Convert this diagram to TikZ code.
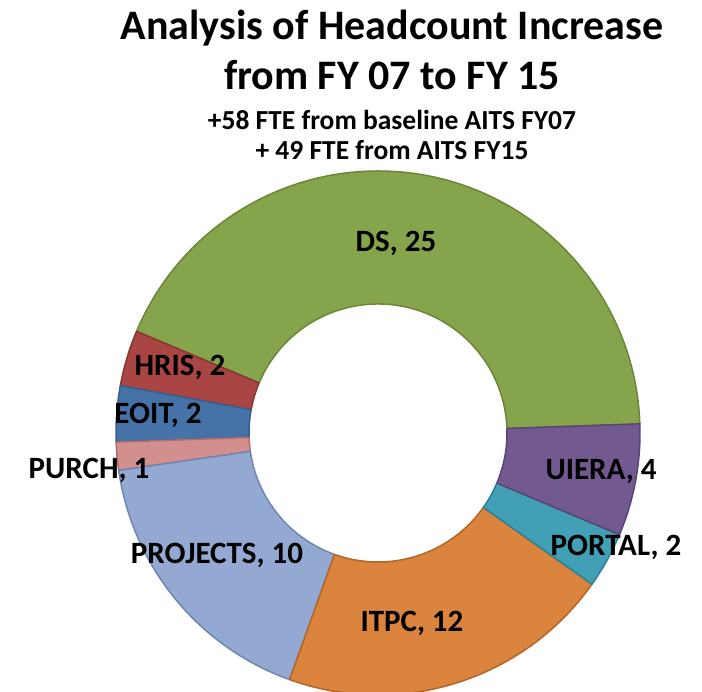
\documentclass[tikz,border=0pt]{standalone}
\usepackage{fontspec}
\setmainfont{Carlito}
\definecolor{dsfill}{HTML}{86A44C}\definecolor{dsline}{HTML}{6A8638}
\definecolor{hrfill}{HTML}{A94543}\definecolor{hrline}{HTML}{893533}
\definecolor{eofill}{HTML}{4573A8}\definecolor{eoline}{HTML}{365E8E}
\definecolor{pufill}{HTML}{D38F8E}\definecolor{puline}{HTML}{B06E6C}
\definecolor{prfill}{HTML}{93A9D1}\definecolor{prline}{HTML}{6F87B0}
\definecolor{itfill}{HTML}{DB843D}\definecolor{itline}{HTML}{B2662A}
\definecolor{pofill}{HTML}{41A0B5}\definecolor{poline}{HTML}{2E8195}
\definecolor{uifill}{HTML}{72598F}\definecolor{uiline}{HTML}{5A4473}
\tikzset{
  charttitle/.style={font=\fontsize{42}{48}\selectfont\bfseries, inner sep=0pt},
  chartsub/.style={font=\fontsize{27.5}{31}\selectfont\bfseries, inner sep=0pt},
  slicelabel/.style={font=\fontsize{31}{35}\selectfont\bfseries, inner sep=0pt},
  slice/.style={line width=1.5pt, line join=round}
}
\begin{document}
\begin{tikzpicture}[x=1pt,y=1pt]
\useasboundingbox (0,0) rectangle (702,-692);
\fill[white] (0,0) rectangle (702,-692);
% ring geometry: centre, outer and inner radius
\coordinate (c) at (378,-433);
\def\Ro{262}
\def\Ri{129}
% slices, counter-clockwise from the right-hand side: start/end/fill/line
\foreach \a/\b/\f/\l in {
  2/157.17/dsfill/dsline,
  157.17/169.59/hrfill/hrline,
  169.59/182.0/eofill/eoline,
  182.0/188.21/pufill/puline,
  188.21/250.28/prfill/prline,
  250.28/324.76/itfill/itline,
  324.76/337.17/pofill/poline,
  337.17/362/uifill/uiline}{
  \draw[slice, fill=\f, draw=\l]
    ([shift={(\a:\Ro)}]c) arc[start angle=\a, end angle=\b, radius=\Ro]
    -- ([shift={(\b:\Ri)}]c) arc[start angle=\b, end angle=\a, radius=\Ri]
    -- cycle;
}
% title and subtitle
\node[charttitle] (t1) at (392,-28) {Analysis of Headcount Increase};
\node[charttitle] (t2) at (392,-75) {from FY 07 to FY 15};
\node[chartsub] (s1) at (392,-120) {+58 FTE from baseline AITS FY07};
\node[chartsub] (s2) at (392,-150) {+ 49 FTE from AITS FY15};
% data labels
\node[slicelabel] (lds) at (396,-243) {DS, 25};
\node[slicelabel] (lhr) at (180,-367) {HRIS, 2};
\node[slicelabel] (leo) at (158,-415) {EOIT, 2};
\node[slicelabel] (lpu) at (89,-470) {PURCH, 1};
\node[slicelabel] (lpr) at (217,-555) {PROJECTS, 10};
\node[slicelabel] (lit) at (412,-623) {ITPC, 12};
\node[slicelabel] (lpo) at (616,-547) {PORTAL, 2};
\node[slicelabel] (lui) at (601,-472) {UIERA, 4};
\end{tikzpicture}
\end{document}
